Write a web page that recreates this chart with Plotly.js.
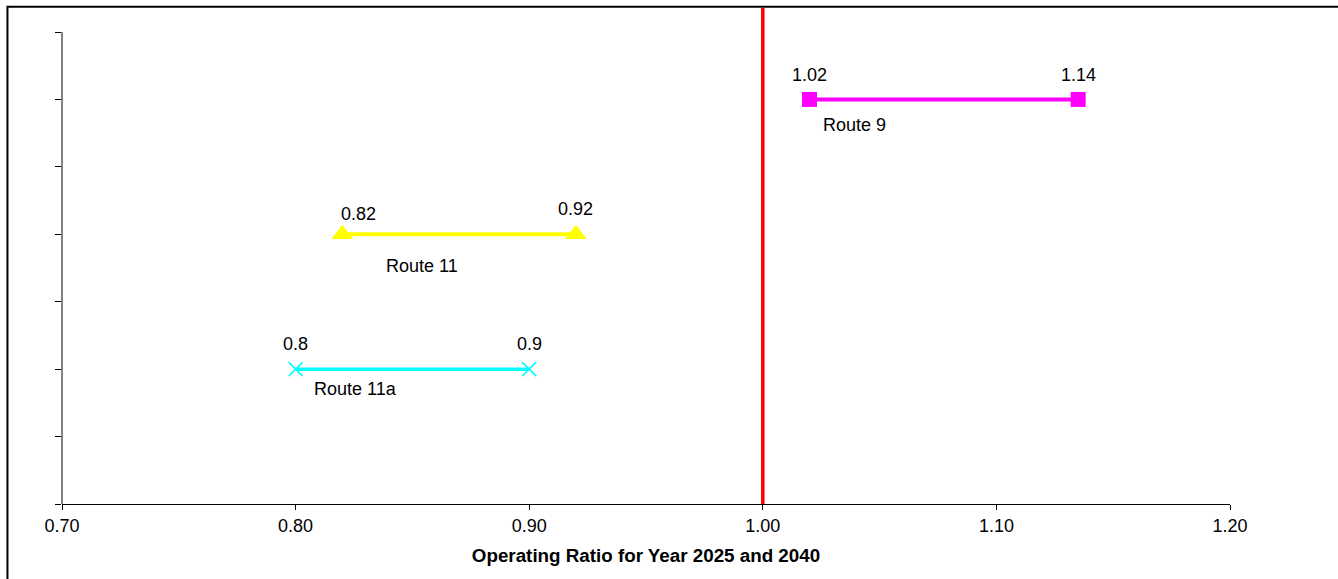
<!DOCTYPE html>
<html>
<head>
<meta charset="utf-8">
<script src="https://cdn.plot.ly/plotly-3.0.1.min.js"></script>
<style>
  html, body { margin: 0; padding: 0; background: #fff; }
  #chart { width: 1338px; height: 579px; }
</style>
</head>
<body>
<div id="chart"></div>
<script>
// ---- data ----
const routes = ['Route 9', 'Route 11', 'Route 11a'];
const rowPos = [6, 4, 2];
const ratio2025 = [1.02, 0.82, 0.80];
const ratio2040 = [1.135, 0.92, 0.90];
const label2025 = ['1.02', '0.82', '0.8'];
const label2040 = ['1.14', '0.92', '0.9'];
const xTickVals = [0.70, 0.80, 0.90, 1.00, 1.10, 1.20];
const xTickText = ['0.70', '0.80', '0.90', '1.00', '1.10', '1.20'];
const yTickVals = [0, 1, 2, 3, 4, 5, 6, 7];
const breakEven = 1.0;

// ---- styles ----
const FONT = 'Arial, "Liberation Sans", sans-serif';
const styles = [
  { color: '#FF00FF', symbol: 'square', size: 15, lw: 4, mlw: 0 },
  { color: '#FFFF00', symbol: 'triangle-up', size: 19, lw: 4, mlw: 0 },
  { color: '#00FFFF', symbol: 'x-thin', size: 14, lw: 3.5, mlw: 1.5 }
];
// label offsets in px: [startDx, startDy, endDx, endDy, nameDx, nameDy]
const offsets = [
  [0, -24, 0, -24, 45, 26],
  [16, -20, 0, -25, 80, 32],
  [0, -25, 0, -25, 60, 20]
];
const yTop = 7.356;

const traces = routes.map((r, i) => ({
  type: 'scatter',
  mode: 'lines+markers',
  name: r,
  x: [ratio2025[i], ratio2040[i]],
  y: [rowPos[i], rowPos[i]],
  line: { color: styles[i].color, width: styles[i].lw },
  marker: {
    color: styles[i].color,
    symbol: styles[i].symbol,
    size: styles[i].size,
    line: { color: styles[i].color, width: styles[i].mlw }
  },
  cliponaxis: false,
  hoverinfo: 'x+name'
}));

traces.push({
  type: 'scatter',
  mode: 'lines',
  x: [breakEven, breakEven],
  y: [0, yTop],
  line: { color: '#FF0000', width: 3.5 },
  hoverinfo: 'skip',
  showlegend: false
});

const annotations = [];
routes.forEach((r, i) => {
  const o = offsets[i];
  const base = { xref: 'x', yref: 'y', showarrow: false, font: { family: FONT, size: 18, color: '#000' } };
  annotations.push(Object.assign({}, base, { x: ratio2025[i], y: rowPos[i], text: label2025[i], xshift: o[0], yshift: -o[1] }));
  annotations.push(Object.assign({}, base, { x: ratio2040[i], y: rowPos[i], text: label2040[i], xshift: o[2], yshift: -o[3] }));
  annotations.push(Object.assign({}, base, { x: ratio2025[i], y: rowPos[i], text: r, xshift: o[4], yshift: -o[5] }));
});

const layout = {
  width: 1338,
  height: 579,
  margin: { l: 62, r: 108, t: 8, b: 75, pad: 0 },
  paper_bgcolor: '#fff',
  plot_bgcolor: '#fff',
  showlegend: false,
  font: { family: FONT, size: 18, color: '#000' },
  xaxis: {
    range: [0.7, 1.2],
    tickvals: xTickVals,
    ticktext: xTickText,
    ticks: 'outside',
    ticklen: 5,
    tickcolor: '#000',
    tickwidth: 1,
    showline: true,
    linecolor: '#000',
    linewidth: 1,
    showgrid: false,
    zeroline: false,
    tickfont: { family: FONT, size: 18, color: '#000' },
    title: {
      text: '<b>Operating Ratio for Year 2025 and 2040</b>',
      font: { family: FONT, size: 18.8, color: '#000' },
      standoff: 14
    },
    fixedrange: true
  },
  yaxis: {
    range: [0, yTop],
    tickvals: yTickVals,
    ticks: 'outside',
    ticklen: 6,
    tickcolor: '#000',
    tickwidth: 1,
    showticklabels: false,
    showline: false,
    showgrid: false,
    zeroline: false,
    fixedrange: true
  },
  shapes: [
    { type: 'line', xref: 'paper', yref: 'y', x0: 0, x1: 0, y0: 0, y1: 7,
      line: { color: '#000', width: 1 } },
    { type: 'rect', xref: 'paper', yref: 'paper', x0: -0.0467, x1: 1.2, y0: -0.3, y1: 1.0026,
      line: { color: '#000', width: 2 }, fillcolor: 'rgba(0,0,0,0)' }
  ],
  annotations: annotations
};

Plotly.newPlot('chart', traces, layout, { displayModeBar: false, staticPlot: true });
</script>
</body>
</html>
